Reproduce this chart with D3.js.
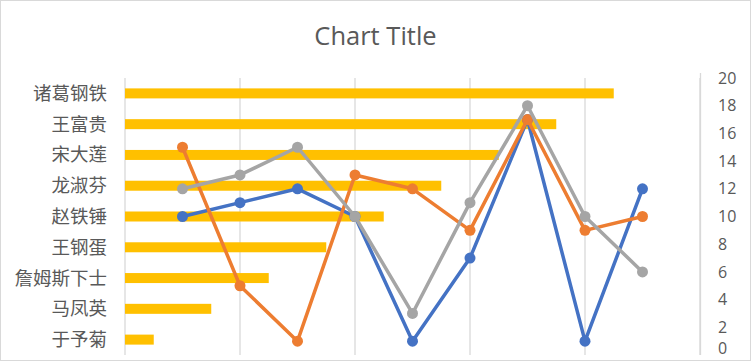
<!DOCTYPE html>
<html><head><meta charset="utf-8">
<script src="https://cdn.jsdelivr.net/npm/d3@7"></script>
<style>body{margin:0;background:#fff}svg{display:block}</style>
</head><body>
<script>
const categories = ["于予菊","马凤英","詹姆斯下士","王钢蛋","赵铁锤","龙淑芬","宋大莲","王富贵","诸葛钢铁"];
const barValues = [1,3,5,7,9,11,13,15,17];
const lineIndex = [1,2,3,4,5,6,7,8,9];
const seriesBlue = [10,11,12,10,1,7,17,1,12];
const seriesOrange = [15,5,1,13,12,9,17,9,10];
const seriesGray = [12,13,15,10,3,11,18,10,6];
const rightTicks = [0,2,4,6,8,10,12,14,16,18,20];
const barTicks = [0,4,8,12,16,20];

(function(){
const W = 751, H = 361;
const pL = 125, pR = 700, pT = 78, pB = 355;
const svg = d3.select("body").append("svg").attr("width", W).attr("height", H);
svg.append("rect").attr("x",0.5).attr("y",0.5).attr("width",W-1).attr("height",H-1)
  .attr("fill","#fff").attr("stroke","#D9D9D9");

const font = "'Noto Sans CJK SC','Noto Sans',sans-serif";
svg.append("text").attr("x", 375.5).attr("y", 45).attr("text-anchor","middle")
  .attr("font-family", "'Open Sans','Noto Sans',sans-serif").attr("font-size", 25.5).attr("fill","#595959").text("Chart Title");

const xBar = d3.scaleLinear().domain([0,20]).range([pL, pR]);
const yBand = d3.scaleBand().domain(categories.slice().reverse()).range([pT, pB]);
const xLine = d3.scaleLinear().domain([0,10]).range([pL, pR]);
const yLine = d3.scaleLinear().domain([0,20]).range([pB, pT]);

svg.append("g").selectAll("line").data(barTicks).join("line")
  .attr("x1", d => xBar(d)).attr("x2", d => xBar(d)).attr("y1", pT).attr("y2", pB)
  .attr("stroke", "#D9D9D9").attr("stroke-width", 1.3);

const bh = 10;
svg.append("g").selectAll("rect").data(categories).join("rect")
  .attr("x", xBar(0)).attr("y", d => yBand(d) + yBand.bandwidth()/2 - bh/2)
  .attr("width", (d,i) => xBar(barValues[i]) - xBar(0)).attr("height", bh)
  .attr("fill", "#FFC000");

svg.append("g").selectAll("text").data(categories).join("text")
  .attr("x", 107).attr("y", d => yBand(d) + yBand.bandwidth()/2)
  .attr("dy", "0.35em").attr("text-anchor","end")
  .attr("font-family", font).attr("font-size", 18.5).attr("fill","#595959").text(d => d);

svg.append("line").attr("x1", pR+0.5).attr("x2", pR+0.5).attr("y1", 73).attr("y2", pB)
  .attr("stroke","#D9D9D9").attr("stroke-width",1.3);
svg.append("g").selectAll("text").data(rightTicks).join("text")
  .attr("x", 718).attr("y", d => Math.min(yLine(d), 348)).attr("dy","0.35em")
  .attr("font-family","'Open Sans','Noto Sans',sans-serif").attr("font-size",16).attr("fill","#595959").text(d => d);

const series = [[seriesBlue,"#4472C4"],[seriesOrange,"#ED7D31"],[seriesGray,"#A5A5A5"]];
const lineGen = d3.line().x((d,i) => xLine(lineIndex[i])).y(d => yLine(d));
series.forEach(([vals, col]) => {
  const g = svg.append("g");
  g.append("path").datum(vals).attr("d", lineGen).attr("fill","none")
    .attr("stroke", col).attr("stroke-width", 3.5).attr("stroke-linejoin","round");
  g.selectAll("circle").data(vals).join("circle")
    .attr("cx",(d,i) => xLine(lineIndex[i])).attr("cy", d => yLine(d)).attr("r", 5.5).attr("fill", col);
});
})();
</script>
</body></html>
